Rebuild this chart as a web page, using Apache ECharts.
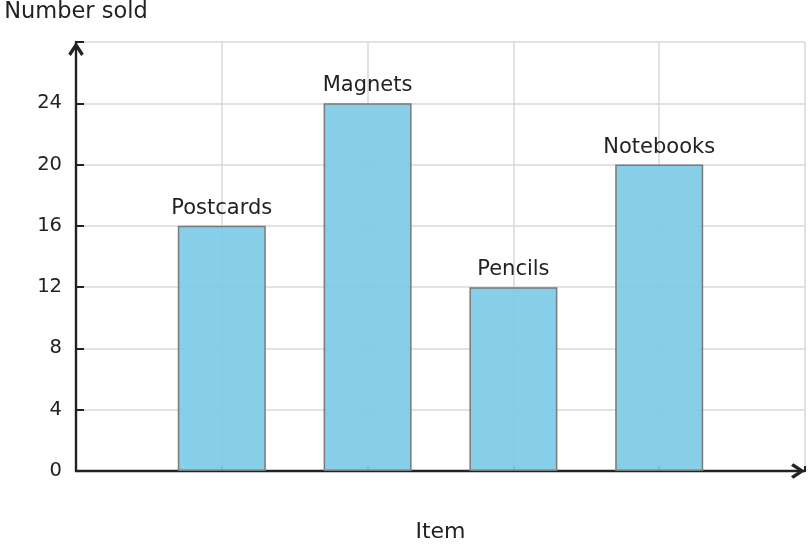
<!DOCTYPE html>
<html>
<head>
<meta charset="utf-8">
<script src="https://cdn.jsdelivr.net/npm/echarts@6/dist/echarts.min.js"></script>
<style>
html,body{margin:0;padding:0;background:#fff;}
#c{width:809px;height:548px;}
</style>
</head>
<body>
<div id="c"></div>
<script>
const categories = ['Postcards', 'Magnets', 'Pencils', 'Notebooks'];
const values = [16, 24, 12, 20];
const yTicks = [0, 4, 8, 12, 16, 20, 24];

const chevron = 'path://M0,9 L6,0 L12,9 L10.0,10.8 L6,4.6 L2.0,10.8 Z';
const textColor = '#222222';
const font = 'DejaVu Sans';

const chart = echarts.init(document.getElementById('c'));
chart.setOption({
  animation: false,
  backgroundColor: '#ffffff',
  grid: { left: 76, right: 4, top: 42, bottom: 77, containLabel: false, outerBoundsMode: 'none' },
  xAxis: {
    type: 'value',
    min: 0, max: 5, interval: 1,
    name: 'Item',
    nameLocation: 'middle',
    nameGap: 50,
    nameTextStyle: { fontSize: 22, color: textColor, fontFamily: font },
    axisLine: { show: true, lineStyle: { color: textColor, width: 2.4 }, symbol: ['none', chevron], symbolSize: [16, 14], symbolOffset: [0, -7] },
    axisTick: { show: true, inside: true, length: 5, lineStyle: { color: textColor, width: 2 } },
    axisLabel: { show: false },
    splitLine: { show: true, lineStyle: { color: '#d9d9d9', width: 1.5 } }
  },
  yAxis: {
    type: 'value',
    min: 0, max: 28, interval: 4,
    name: 'Number sold',
    nameLocation: 'end',
    nameGap: 18,
    nameTextStyle: { fontSize: 22.5, color: textColor, fontFamily: font },
    axisLine: { show: true, lineStyle: { color: textColor, width: 2.4 }, symbol: ['none', chevron], symbolSize: [16, 14], symbolOffset: [0, -7] },
    axisTick: { show: true, inside: true, length: 8, lineStyle: { color: textColor, width: 2 } },
    axisLabel: {
      fontSize: 19.5, color: textColor, fontFamily: font, margin: 14,
      formatter: v => (yTicks.indexOf(v) >= 0 ? String(v) : '')
    },
    splitLine: { show: true, lineStyle: { color: '#d9d9d9', width: 1.5 } }
  },
  series: [{
    type: 'bar',
    barWidth: 88,
    data: values.map((v, i) => [i + 1, v]),
    itemStyle: { color: 'rgba(125,203,230,0.92)', borderColor: '#7a7a7a', borderWidth: 1.5 },
    label: {
      show: true, position: 'top', distance: 7,
      fontSize: 21, color: textColor, fontFamily: font,
      formatter: p => categories[p.dataIndex]
    }
  }]
});
</script>
</body>
</html>
